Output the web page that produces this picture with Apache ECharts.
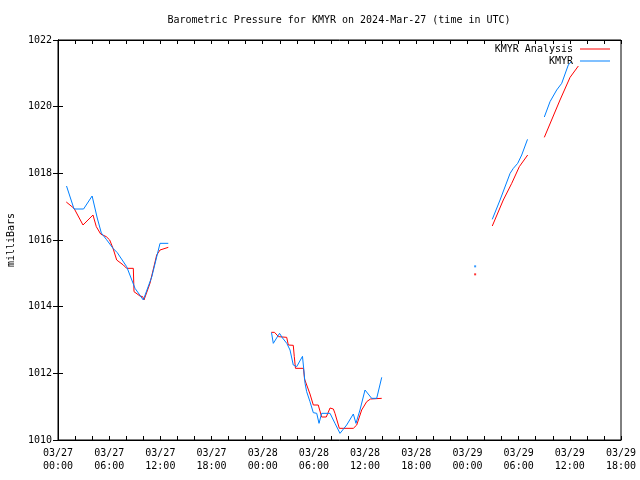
<!DOCTYPE html>
<html><head><meta charset="utf-8">
<script src="https://cdn.jsdelivr.net/npm/echarts@6/dist/echarts.min.js"></script>
<style>html,body{margin:0;padding:0;background:#fff}#c{width:640px;height:480px}</style>
</head><body><div id="c"></div>
<script>
const titleText = 'Barometric Pressure for KMYR on 2024-Mar-27 (time in UTC)';
const yAxisName = 'milliBars';
const xTickHours = [0, 6, 12, 18, 24, 30, 36, 42, 48, 54, 60, 66];
const xTickLabels = ['03/27\n00:00','03/27\n06:00','03/27\n12:00','03/27\n18:00',
  '03/28\n00:00','03/28\n06:00','03/28\n12:00','03/28\n18:00',
  '03/29\n00:00','03/29\n06:00','03/29\n12:00','03/29\n18:00'];

// hours since 2024-03-27 00:00 UTC; null value = gap
const obsHours = [1.0, 1.88, 3.0, 4.0, 4.6, 5.08, 5.66, 6.45, 6.95, 8.05, 9.03, 10.0, 11.0, 11.96, 12.93,
  19,
  25.03, 25.24, 25.97, 26.32, 26.82, 27.2, 27.58, 27.98, 28.66, 28.82, 28.96, 29.15, 29.54, 29.93, 30.33, 30.6, 30.91, 31.89, 32.47, 33.06, 33.84, 34.62, 34.93, 35.4, 35.99, 36.77, 37.36, 37.95,
  44,
  50.91, 51.82, 53.0, 53.38, 53.89, 54.36, 55.04,
  56,
  57.01, 57.68, 58.46, 59.05, 59.82, 60.14];
const obsValues = [1017.62, 1016.93, 1016.93, 1017.32, 1016.66, 1016.21, 1016.02, 1015.75, 1015.62, 1015.2, 1014.55, 1014.2, 1014.9, 1015.9, 1015.9,
  null,
  1013.22, 1012.9, 1013.2, 1013.06, 1012.9, 1012.7, 1012.25, 1012.2, 1012.51, 1012.1, 1011.7, 1011.45, 1011.15, 1010.82, 1010.8, 1010.5, 1010.8, 1010.8, 1010.5, 1010.2, 1010.45, 1010.78, 1010.5, 1010.9, 1011.5, 1011.25, 1011.25, 1011.88,
  null,
  1016.62, 1017.2, 1018.0, 1018.15, 1018.3, 1018.55, 1019.02,
  null,
  1019.69, 1020.15, 1020.5, 1020.7, 1021.25, 1021.34];

const anaHours = [0.97, 1.88, 2.93, 4.1, 4.49, 5.0, 5.66, 6.06, 6.45, 6.88, 7.66, 8.05, 8.83, 8.91, 9.61, 9.93, 10.08, 10.78, 11.57, 11.96, 12.93,
  19,
  25.0, 25.38, 25.85, 26.81, 27.0, 27.58, 27.7, 27.84, 28.78, 28.9, 29.54, 29.93, 30.51, 30.91, 31.45, 31.89, 32.28, 32.47, 32.98, 34.62, 35.02, 35.6, 36.19, 36.63, 37.95,
  44,
  50.91, 52.2, 53.19, 54.08, 55.06,
  56,
  57.01, 58.85, 60.03, 61.0];
const anaValues = [1017.14, 1016.95, 1016.45, 1016.75, 1016.4, 1016.18, 1016.1, 1016.0, 1015.75, 1015.4, 1015.25, 1015.15, 1015.15, 1014.45, 1014.32, 1014.3, 1014.2, 1014.7, 1015.55, 1015.7, 1015.78,
  null,
  1013.23, 1013.23, 1013.1, 1013.08, 1012.85, 1012.84, 1012.5, 1012.15, 1012.15, 1011.83, 1011.38, 1011.05, 1011.05, 1010.69, 1010.69, 1010.96, 1010.93, 1010.8, 1010.35, 1010.35, 1010.45, 1010.9, 1011.15, 1011.23, 1011.25,
  null,
  1016.42, 1017.2, 1017.7, 1018.2, 1018.55,
  null,
  1019.08, 1020.2, 1020.88, 1021.22];

// single isolated reports
const loneHours = [48.9];
const loneObs = [1015.21];
const loneAna = [1014.97];

const FONT = 'DejaVu Sans Mono';
const RED = '#ff0000', BLUE = '#0080ff';
const pairs = (xs, ys) => xs.map((x, i) => [x, ys[i]]);

const chart = echarts.init(document.getElementById('c'), null, {renderer: 'canvas'});
const txt = {fontFamily: FONT, fontSize: 10, color: '#000'};
const xCommon = {
  type: 'value', min: 0, max: 66, interval: 2,
  axisLine: {show: true, lineStyle: {color: '#000', width: 1}},
  axisTick: {show: true, inside: true, length: 4, lineStyle: {color: '#000'}},
  splitLine: {show: false}
};
const yCommon = {
  type: 'value', min: 1010, max: 1022, interval: 2,
  axisLine: {show: true, lineStyle: {color: '#000', width: 1}},
  axisTick: {show: true, inside: true, length: 5, lineStyle: {color: '#000'}},
  splitLine: {show: false}
};
const legendCommon = {right: 30, align: 'right', orient: 'vertical', icon: 'rect', itemWidth: 30, itemHeight: 1,
  padding: 0, selectedMode: false, textStyle: Object.assign({padding: [0, 2, 0, 0]}, txt)};
chart.setOption({
  animation: false,
  backgroundColor: '#fff',
  title: {text: titleText, left: 339, top: 15, textAlign: 'center', padding: 0,
    textStyle: Object.assign({fontWeight: 'normal'}, txt)},
  grid: {left: 58, right: 19, top: 40, bottom: 40, containLabel: false, outerBoundsMode: 'none',
    show: true, borderColor: '#000', borderWidth: 1},
  legend: [
    Object.assign({data: ['KMYR Analysis'], top: 44}, legendCommon),
    Object.assign({data: ['KMYR'], top: 56}, legendCommon)
  ],
  xAxis: [
    Object.assign({}, xCommon, {position: 'bottom',
      axisLabel: Object.assign({}, txt, {margin: 7, lineHeight: 13, showMinLabel: true, showMaxLabel: true,
        formatter: v => { const i = xTickHours.indexOf(v); return i >= 0 ? xTickLabels[i] : ''; }})}),
    Object.assign({}, xCommon, {position: 'top', axisLabel: {show: false}})
  ],
  yAxis: [
    Object.assign({}, yCommon, {position: 'left', name: yAxisName, nameLocation: 'middle', nameGap: 42,
      nameTextStyle: txt, axisLabel: Object.assign({}, txt, {margin: 6, formatter: v => String(v)})}),
    Object.assign({}, yCommon, {position: 'right', axisLabel: {show: false}})
  ],
  series: [
    {name: 'KMYR Analysis', type: 'line', data: pairs(anaHours, anaValues), symbol: 'none',
      lineStyle: {color: RED, width: 1}, itemStyle: {color: RED}, connectNulls: false, z: 2},
    {name: 'KMYR', type: 'line', data: pairs(obsHours, obsValues), symbol: 'none',
      lineStyle: {color: BLUE, width: 1}, itemStyle: {color: BLUE}, connectNulls: false, z: 3},
    {name: 'lone-ana', type: 'scatter', data: pairs(loneHours, loneAna), symbol: 'rect', symbolSize: 2,
      itemStyle: {color: RED}, silent: true},
    {name: 'lone-obs', type: 'scatter', data: pairs(loneHours, loneObs), symbol: 'rect', symbolSize: 2,
      itemStyle: {color: BLUE}, silent: true}
  ]
});
</script>
</body></html>
